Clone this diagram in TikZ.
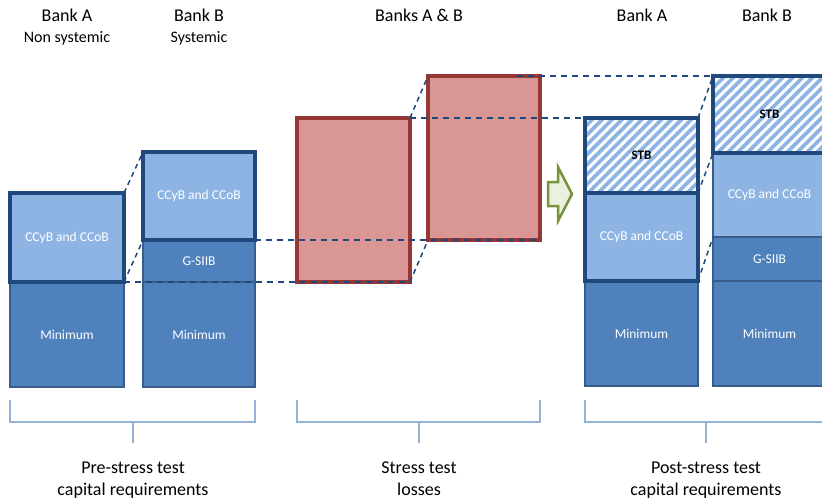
\documentclass[tikz,border=0pt]{standalone}
\usepackage{fontspec}
\setmainfont{Carlito}
\usetikzlibrary{positioning}
\usetikzlibrary{patterns.meta}
\definecolor{lightblue}{HTML}{8EB4E3}
\definecolor{midblue}{HTML}{4F81BD}
\definecolor{darkedge}{HTML}{1F497D}
\definecolor{midedge}{HTML}{385D8A}
\definecolor{lossfill}{HTML}{D99694}
\definecolor{lossedge}{HTML}{953735}
\definecolor{bracketcol}{HTML}{95B3D7}
\definecolor{arrowedge}{HTML}{77933C}
\definecolor{arrowfill}{HTML}{EBF1DE}
\tikzset{layer/.style={ % common look of every buffer block
			rectangle,
			inner sep=0pt,
			outer sep=0pt,
			text=white,
			font=\fontsize{13.5}{16}\selectfont},
		minbox/.style={layer, fill=midblue, draw=midedge, line width=2.5pt},
		ccbox/.style={layer, fill=lightblue, draw=darkedge, line width=3.5pt},
		stbbox/.style={layer, preaction={fill=lightblue},
			pattern={Lines[angle=45,distance=7pt,line width=3pt]}, pattern color=white,
			draw=darkedge, line width=3.5pt, text=black, font=\fontsize{13}{16}\selectfont\bfseries},
		lossbox/.style={layer, fill=lossfill, draw=lossedge, line width=3.5pt},
		level/.style={draw=darkedge, line width=2pt, dash pattern=on 6pt off 5pt},
		slant/.style={draw=darkedge, line width=1.5pt, dash pattern=on 5pt off 4pt},
		bracket/.style={draw=bracketcol, line width=1.5pt},
		head/.style={font=\fontsize{18}{21}\selectfont},
		subhead/.style={font=\fontsize{16}{19}\selectfont},
		caption/.style={font=\fontsize{18}{22}\selectfont, align=center, inner sep=0pt}}

\begin{document}
\begin{tikzpicture}[x=1pt,y=-1pt]
			\useasboundingbox (0,0) rectangle (822,499);
			\clip (0,0) rectangle (822,499);
			
			% headers
			\node[head] (hA) at (67,15) {Bank A};
			\node[subhead] (sA) at (67,38) {Non systemic};
			\node[head] (hB) at (199,15) {Bank B};
			\node[subhead] (sB) at (199,38) {Systemic};
			\node[head] (hAB) at (419,15) {Banks A \& B};
			\node[head] (hA2) at (642,15) {Bank A};
			\node[head] (hB2) at (767,15) {Bank B};
			
			% pre-stress test
			\node[minbox, minimum width=114pt, minimum height=105pt] (minA) at (67,334.5) {Minimum};
			\node[ccbox, minimum width=114pt, minimum height=89pt] (ccA) at (67,237.5) {CCyB and CCoB};
			\node[minbox, minimum width=112pt, minimum height=105pt] (minB) at (199,334.5) {Minimum};
			\node[minbox, minimum width=112pt, minimum height=42pt] (gsB) at (199,261) {G-SIIB};
			\node[ccbox, minimum width=112pt, minimum height=88pt] (ccB) at (199,196) {CCyB and CCoB};
			
			% stress test losses
			\node[lossbox, minimum width=113pt, minimum height=164pt] (lossA) at (353.5,200) {};
			\node[lossbox, minimum width=112pt, minimum height=164pt] (lossB) at (484,158) {};
			
			% post-stress test
			\node[minbox, minimum width=113pt, minimum height=105pt] (minC) at (641.5,333.5) {Minimum};
			\node[ccbox, minimum width=113pt, minimum height=88pt] (ccC) at (641.5,237) {CCyB and CCoB};
			\node[stbbox, minimum width=113pt, minimum height=75pt] (stbC) at (641.5,155.5) {STB};
			\node[minbox, minimum width=113pt, minimum height=105pt] (minD) at (769.5,333.5) {Minimum};
			\node[minbox, minimum width=113pt, minimum height=44pt] (gsD) at (769.5,259) {G-SIIB};
			\node[minbox, fill=lightblue, minimum width=113pt, minimum height=84pt] (ccD) at (769.5,195) {CCyB and CCoB};
			\node[stbbox, minimum width=113pt, minimum height=77pt] (stbD) at (769.5,114.5) {STB};
			
			\draw[line width=2.5pt, draw=arrowedge, fill=arrowfill, line join=miter]
				(548,182) -- (558,182) -- (558,167) -- (572,194) -- (558,221) -- (558,206) -- (548,206) -- cycle;
			
			% dashed levels
			\draw[level] (ccA.south east) -- (ccA.south east -| lossA.south east);
			\draw[level] (gsB.north east) -- (gsB.north east -| lossB.south east);
			\draw[level] (lossA.north east) -- (stbC.north west);
			\draw[level] ([xshift=-23pt]lossB.north east) -- (stbD.north west);
			\draw[slant] (ccA.north east) -- (ccB.north west);
			\draw[slant] (ccA.south east) -- (gsB.north west);
			\draw[slant] (lossA.north east) -- (lossB.north west);
			\draw[slant] (lossA.south east) -- (lossB.south west);
			\draw[slant] (stbC.north east) -- (stbD.north west);
			\draw[slant] (stbC.south east) -- (stbD.south west);
			\draw[slant] (ccC.south east) -- (ccD.south west);
			
			% brackets
			\coordinate (preL) at ([yshift=-13pt]minA.south west);
			\coordinate (lossL) at (lossA.west |- preL);
			\coordinate (postL) at (minC.west |- preL);
			\draw[bracket] (preL) -- ++(0,22) -| (minB.east |- preL);
			\draw[bracket] (lossL) -- ++(0,22) -| (lossB.east |- preL);
			\draw[bracket] (postL) -- ++(0,22) -| (minD.east |- preL);
			\coordinate (preTick) at (133,422);
			\coordinate (lossTick) at (419,422);
			\coordinate (postTick) at (706,422);
			\draw[bracket] (preTick) -- ++(0,21) coordinate (preEnd);
			\draw[bracket] (lossTick) -- ++(0,21) coordinate (lossEnd);
			\draw[bracket] (postTick) -- ++(0,21) coordinate (postEnd);
			\node[caption, below=19pt of preEnd] (preTxt) {Pre-stress test\\capital requirements};
			\node[caption, below=19pt of lossEnd] (lossTxt) {Stress test\\losses};
			\node[caption, below=19pt of postEnd] (postTxt) {Post-stress test\\capital requirements};
		\end{tikzpicture}
\end{document}
